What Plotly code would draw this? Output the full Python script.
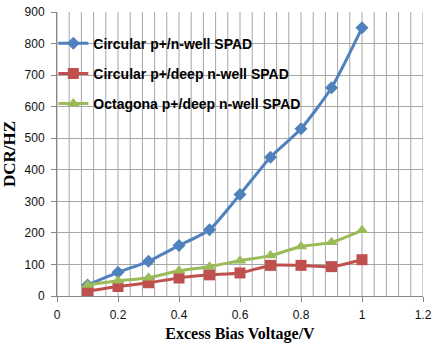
import plotly.graph_objects as go

x_vals = [0.1, 0.2, 0.3, 0.4, 0.5, 0.6, 0.7, 0.8, 0.9, 1.0]
circ_nwell = [35, 75, 110, 160, 210, 322, 440, 530, 660, 850]
circ_deep = [15, 30, 42, 57, 67, 73, 97, 97, 93, 115]
oct_deep = [35, 48, 58, 80, 93, 112, 128, 157, 170, 208]
names = ["Circular p+/n-well SPAD", "Circular p+/deep n-well SPAD", "Octagona p+/deep n-well SPAD"]
x_ticks = [0, 0.2, 0.4, 0.6, 0.8, 1, 1.2]
x_tick_text = ["0", "0.2", "0.4", "0.6", "0.8", "1", "1.2"]
y_ticks = [0, 100, 200, 300, 400, 500, 600, 700, 800, 900]
minor_x = [round(i * 0.04, 4) for i in range(0, 31)]

fig = go.Figure()
series = [
    (circ_nwell, "#4F81BD", "diamond", 10),
    (circ_deep, "#C0504D", "square", 11),
    (oct_deep, "#9BBB59", "triangle-up", 11),
]
for i, ((vals, col, sym, sz), nm) in enumerate(zip(series, names)):
    fig.add_trace(go.Scatter(
        x=x_vals, y=vals, name=nm, mode="lines+markers", legendgroup=f"g{i}",
        line=dict(color=col, width=3, shape="spline", smoothing=0.6),
        marker=dict(symbol=sym, size=sz, color=col),
    ))

for v in minor_x:
    fig.add_shape(type="line", xref="x", yref="y", x0=v, x1=v, y0=0, y1=900,
                  line=dict(color="#A6A6A6", width=1), layer="between")

fig.update_layout(
    width=433, height=343,
    margin=dict(l=57, r=10, t=12, b=47, autoexpand=False),
    paper_bgcolor="white", plot_bgcolor="white",
    showlegend=True,
    legend=dict(x=-0.01, y=0.945, xanchor="left", yanchor="top",
                bgcolor="rgba(0,0,0,0)", tracegroupgap=9, itemwidth=30,
                font=dict(family="Liberation Sans, Arial", size=14, color="black", weight="bold")),
    font=dict(family="Liberation Sans, Arial", size=12, color="#111"),
)
fig.update_xaxes(range=[0, 1.2], tickvals=x_ticks, ticktext=x_tick_text, automargin=False,
                 showgrid=False, zeroline=False,
                 showline=True, linecolor="#868686", linewidth=1,
                 ticks="outside", ticklen=5, tickcolor="#868686", ticklabelstandoff=3,
                 title=dict(text="Excess Bias Voltage/V", standoff=8,
                            font=dict(family="Liberation Serif, Times New Roman", size=16, color="black", weight="bold")))
fig.update_yaxes(range=[0, 900], tickvals=y_ticks, automargin=False,
                 showgrid=True, gridcolor="#A6A6A6", gridwidth=1, zeroline=False,
                 showline=True, linecolor="#868686", linewidth=1,
                 ticks="outside", ticklen=5, tickcolor="#868686", ticklabelstandoff=4,
                 title=dict(text="DCR/HZ", standoff=6,
                            font=dict(family="Liberation Serif, Times New Roman", size=17, color="black", weight="bold")))

fig.write_html("out.html")
